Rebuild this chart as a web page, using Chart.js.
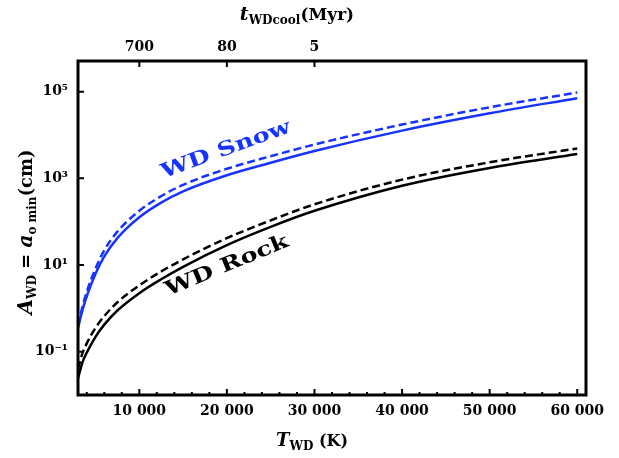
<!DOCTYPE html>
<html>
<head>
<meta charset="utf-8">
<script src="https://cdn.jsdelivr.net/npm/chart.js@4.4.1/dist/chart.umd.min.js"></script>
<style>
html, body { margin: 0; padding: 0; background: #fff; }
</style>
</head>
<body>
<canvas id="chart" width="619" height="458"></canvas>
<script>
// T_WD (K) sample points
const tempK = [3000, 3500, 4000, 5000, 6000, 7500, 10000, 12500, 15000, 20000, 25000, 30000, 40000, 50000, 60000];
// A_WD (cm)
const snowSolid  = [0.35, 0.89, 1.9, 6.3, 15.8, 41.7, 126, 275, 500, 1175, 2290, 4270, 12600, 31600, 70800];
const snowDashed = [0.40, 1.07, 2.4, 8.3, 21.9, 58.9, 178, 389, 708, 1660, 3240, 6030, 17400, 43600, 95500];
const rockSolid  = [0.024, 0.056, 0.095, 0.22, 0.42, 0.89, 2.24, 4.7, 9.1, 28.8, 75.9, 178, 676, 1740, 3630];
const rockDashed = [0.040, 0.091, 0.155, 0.355, 0.66, 1.38, 3.39, 7.1, 13.5, 41.7, 107, 251, 933, 2340, 4900];

const xTicks = [10000, 20000, 30000, 40000, 50000, 60000];
const xMinorTicks = [4000, 6000, 8000, 12000, 14000, 16000, 18000, 22000, 24000, 26000, 28000,
  32000, 34000, 36000, 38000, 42000, 44000, 46000, 48000, 52000, 54000, 56000, 58000];
const topTicks = [10000, 20000, 30000];
const topLabels = ['700', '80', '5'];
const yTicks = [0.1, 10, 1000, 100000];
const yLabels = ['10⁻¹', '10¹', '10³', '10⁵'];

const BLUE = '#1733ff';
const SERIF = "'DejaVu Serif', 'Liberation Serif', serif";
const tickFont = { family: SERIF, size: 14, weight: 'bold' };

function pts(ys) {
  return tempK.map((t, i) => ({ x: t, y: ys[i] }));
}

function fmt(v) {
  return String(v).replace(/(\d)(?=(\d{3})+$)/, '$1 ');
}

function drawRich(ctx, parts, x, y) {
  // parts: [text, fontSize, italic, dy]
  let w = 0;
  parts.forEach(p => {
    ctx.font = (p[2] ? 'italic ' : '') + 'bold ' + p[1] + 'px ' + SERIF;
    w += ctx.measureText(p[0]).width;
  });
  let cx = x - w / 2;
  parts.forEach(p => {
    ctx.font = (p[2] ? 'italic ' : '') + 'bold ' + p[1] + 'px ' + SERIF;
    ctx.fillText(p[0], cx, y + (p[3] || 0));
    cx += ctx.measureText(p[0]).width;
  });
}

const decor = {
  id: 'decor',
  afterDraw(chart) {
    const ctx = chart.ctx;
    const a = chart.chartArea;
    const sx = chart.scales.x, sy = chart.scales.y;
    ctx.save();
    ctx.strokeStyle = '#000';
    // inward ticks
    ctx.lineWidth = 2;
    ctx.beginPath();
    xTicks.forEach(v => {
      const p = sx.getPixelForValue(v);
      ctx.moveTo(p, a.bottom); ctx.lineTo(p, a.bottom - 6);
    });
    xMinorTicks.forEach(v => {
      const p = sx.getPixelForValue(v);
      ctx.moveTo(p, a.bottom); ctx.lineTo(p, a.bottom - 3);
    });
    topTicks.forEach(v => {
      const p = sx.getPixelForValue(v);
      ctx.moveTo(p, a.top); ctx.lineTo(p, a.top + 6);
    });
    yTicks.forEach(v => {
      const p = sy.getPixelForValue(v);
      ctx.moveTo(a.left, p); ctx.lineTo(a.left + 6, p);
    });
    ctx.stroke();
    // frame
    ctx.lineWidth = 3;
    ctx.strokeRect(a.left, a.top, a.right - a.left, a.bottom - a.top);

    // axis titles
    ctx.fillStyle = '#000';
    ctx.textBaseline = 'alphabetic';
    drawRich(ctx, [['t', 19, true], ['WDcool', 12, false, 4], ['(Myr)', 17, false]], 297, 20);
    drawRich(ctx, [['T', 18, true], ['WD', 12, false, 4], [' (K)', 16, false]], 312, 446);
    ctx.save();
    ctx.translate(32, 232);
    ctx.rotate(-Math.PI / 2);
    drawRich(ctx, [['A', 20, true], ['WD', 12, false, 4], [' = ', 18, false], ['a', 20, true],
      ['o min', 12, false, 4], ['(cm)', 18, false]], 0, 0);
    ctx.restore();

    // curve labels
    ctx.textAlign = 'center';
    ctx.textBaseline = 'middle';
    ctx.font = 'bold 20px ' + SERIF;
    ctx.save();
    ctx.translate(226, 150);
    ctx.rotate(-20 * Math.PI / 180);
    ctx.scale(1.28, 1);
    ctx.fillStyle = BLUE;
    ctx.fillText('WD Snow', 0, 0);
    ctx.restore();
    ctx.save();
    ctx.translate(227, 266);
    ctx.rotate(-22.5 * Math.PI / 180);
    ctx.scale(1.28, 1);
    ctx.fillStyle = '#000';
    ctx.fillText('WD Rock', 0, 0);
    ctx.restore();
    ctx.restore();
  }
};

new Chart(document.getElementById('chart'), {
  type: 'line',
  data: {
    datasets: [
      { data: pts(snowSolid), borderColor: BLUE, borderWidth: 2.5 },
      { data: pts(snowDashed), borderColor: BLUE, borderWidth: 2.5, borderDash: [8, 4] },
      { data: pts(rockSolid), borderColor: '#000', borderWidth: 2.5 },
      { data: pts(rockDashed), borderColor: '#000', borderWidth: 2.5, borderDash: [8, 4] }
    ]
  },
  options: {
    responsive: false,
    devicePixelRatio: 1,
    animation: false,
    layout: { padding: { left: 0, right: 33, top: 0, bottom: 0 } },
    elements: {
      point: { radius: 0 },
      line: { cubicInterpolationMode: 'monotone', fill: false }
    },
    plugins: { legend: { display: false }, tooltip: { enabled: false } },
    scales: {
      x: {
        type: 'linear', position: 'bottom', min: 3000, max: 61000,
        grid: { display: false, drawTicks: false }, border: { display: false },
        afterBuildTicks: s => { s.ticks = xTicks.map(v => ({ value: v })); },
        afterFit: s => { s.height = 63; },
        ticks: { font: tickFont, color: '#000', padding: 8, maxRotation: 0, autoSkip: false, callback: v => fmt(v) }
      },
      x2: {
        type: 'linear', position: 'top', min: 3000, max: 61000,
        grid: { display: false, drawTicks: false }, border: { display: false },
        afterBuildTicks: s => { s.ticks = topTicks.map(v => ({ value: v })); },
        afterFit: s => { s.height = 61; },
        ticks: { font: tickFont, color: '#000', padding: 5, maxRotation: 0, autoSkip: false,
          callback: (v, i) => topLabels[i] }
      },
      y: {
        type: 'logarithmic', min: 0.01, max: 510000,
        grid: { display: false, drawTicks: false }, border: { display: false },
        afterBuildTicks: s => { s.ticks = yTicks.map(v => ({ value: v })); },
        afterFit: s => { s.width = 78; },
        ticks: { font: tickFont, color: '#000', padding: 10, autoSkip: false,
          callback: (v, i) => yLabels[i] }
      }
    }
  },
  plugins: [decor]
});
</script>
</body>
</html>
